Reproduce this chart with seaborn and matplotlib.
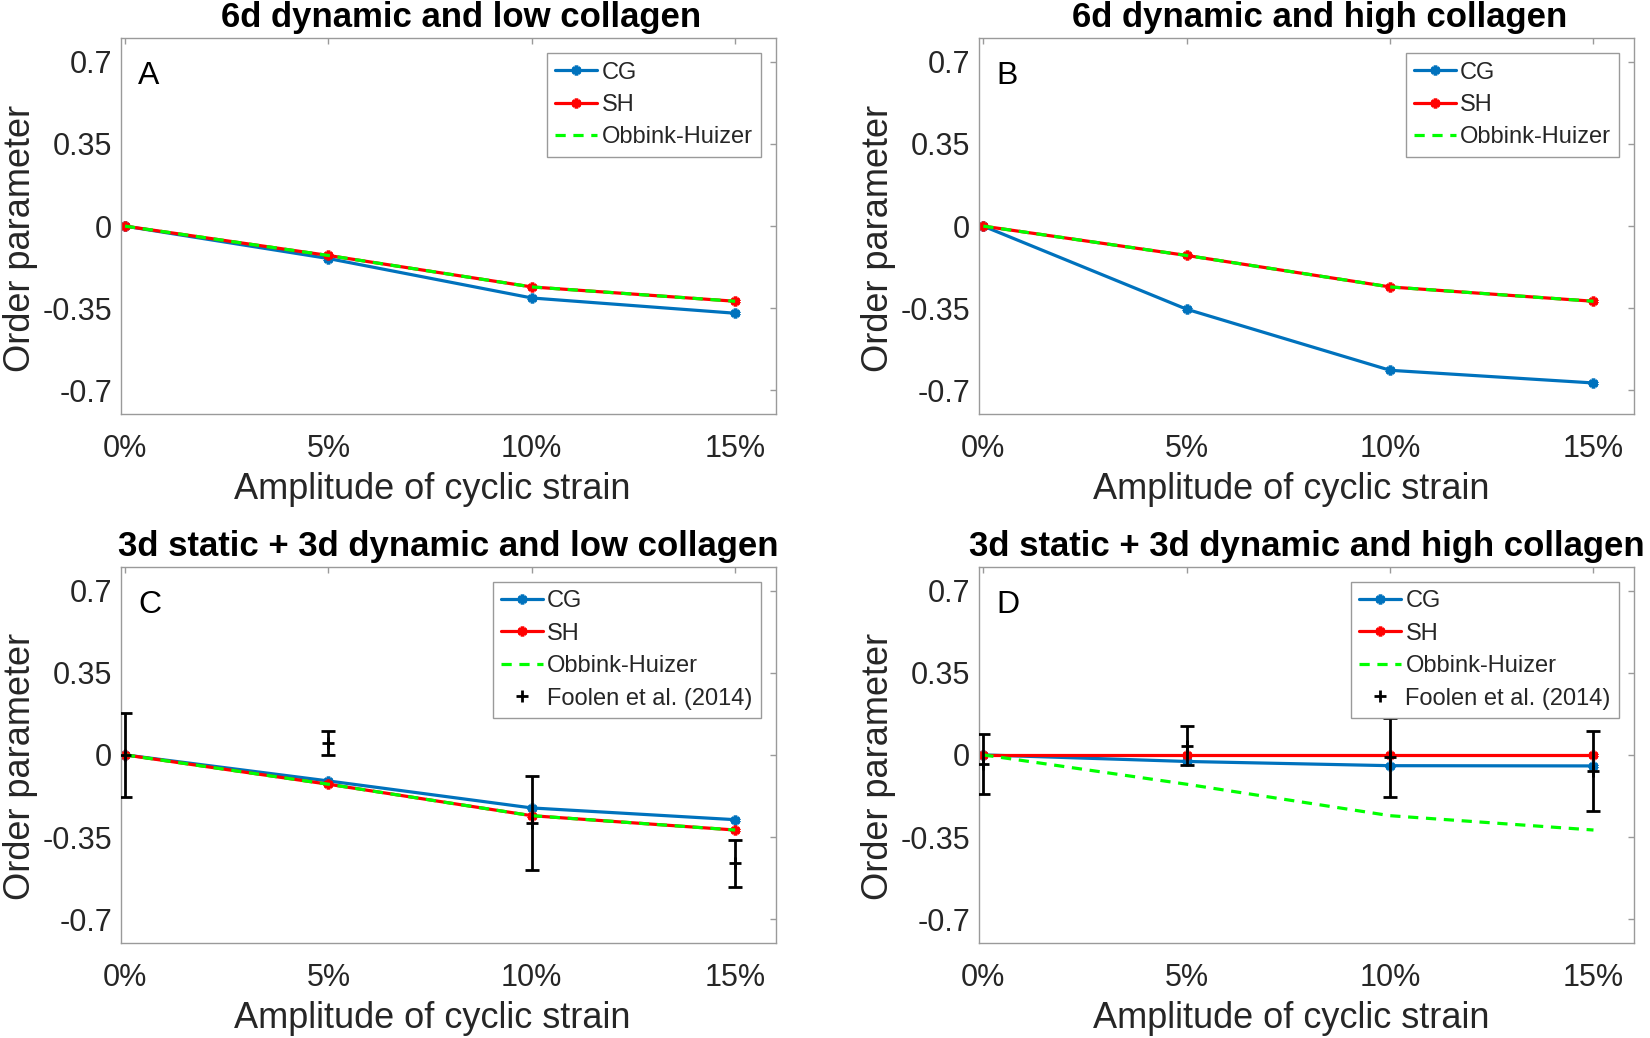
import matplotlib
matplotlib.use("Agg")
import matplotlib.pyplot as plt
from matplotlib.lines import Line2D
from matplotlib.ticker import FuncFormatter
import seaborn as sns

# ── data ───────────────────────────────────────────────────────────────────────
strain = [0, 5, 10, 15]          # amplitude of cyclic strain (%)

obbink_huizer = [0, -0.125, -0.259, -0.320]

cg_a = [0, -0.138, -0.306, -0.371]
sh_a = [0, -0.125, -0.259, -0.320]

cg_b = [0, -0.354, -0.614, -0.668]
sh_b = [0, -0.125, -0.259, -0.320]

cg_c = [0, -0.111, -0.226, -0.276]
sh_c = [0, -0.125, -0.259, -0.320]

cg_d = [0, -0.028, -0.046, -0.047]
sh_d = [0, 0, 0, 0]

foolen_c_mean = [0, 0.050, -0.290, -0.462]
foolen_c_err = [0.180, 0.050, 0.200, 0.100]
foolen_d_mean = [-0.037, 0.039, -0.011, -0.070]
foolen_d_err = [0.128, 0.082, 0.170, 0.170]

titles = [
    "6d dynamic and low collagen",
    "6d dynamic and high collagen",
    "3d static + 3d dynamic and low collagen",
    "3d static + 3d dynamic and high collagen",
]
letters = ["A", "B", "C", "D"]
yticks = [-0.7, -0.35, 0, 0.35, 0.7]

CG_COLOR = "#0072BD"
SH_COLOR = "#FF0000"
OH_COLOR = "#00FF00"
SPINE = "#9a9a9a"
TEXT = "#262626"
OH_DASHES = (3.2, 2.4)

sns.set_style("white")
plt.rcParams["font.family"] = ["Liberation Sans", "DejaVu Sans"]

fig = plt.figure(figsize=(16.5, 10.38), dpi=100)

# axes rectangles in figure fractions
lefts = [0.0733, 0.5935]
bottoms = [0.6012, 0.0918]
width, height = 0.3969, 0.3619

panels = [
    (cg_a, sh_a, None, None),
    (cg_b, sh_b, None, None),
    (cg_c, sh_c, foolen_c_mean, foolen_c_err),
    (cg_d, sh_d, foolen_d_mean, foolen_d_err),
]

marker = (6, 2, 0)

for i, (cg, sh, f_mean, f_err) in enumerate(panels):
    ax = fig.add_axes([lefts[i % 2], bottoms[i // 2], width, height])

    sns.lineplot(x=strain, y=cg, ax=ax, color=CG_COLOR, lw=2.3, marker=marker,
                 markersize=7, markeredgewidth=2.6, markeredgecolor=CG_COLOR,
                 label="CG")
    sns.lineplot(x=strain, y=sh, ax=ax, color=SH_COLOR, lw=2.3, marker=marker,
                 markersize=7, markeredgewidth=2.6, markeredgecolor=SH_COLOR,
                 label="SH")
    sns.lineplot(x=strain, y=obbink_huizer, ax=ax, color=OH_COLOR, lw=2.3,
                 dashes=False, label="Obbink-Huizer")
    ax.lines[-1].set_dashes(OH_DASHES)

    handles, labels = ax.get_legend_handles_labels()
    if f_mean is not None:
        ax.errorbar(strain, f_mean, yerr=f_err, fmt="+", color="black",
                    ecolor="black", elinewidth=2, capsize=5, capthick=2,
                    markersize=8, markeredgewidth=2, zorder=5)
        handles.append(Line2D([0], [0], ls="none", marker="+", color="black",
                              markersize=8, markeredgewidth=2))
        labels.append("Foolen et al. (2014)")

    ax.set_xlim(-0.1, 16)
    ax.set_ylim(-0.8, 0.8)
    ax.set_xticks(strain)
    ax.set_xticklabels([f"{s}%" for s in strain])
    ax.set_yticks(yticks)
    ax.yaxis.set_major_formatter(FuncFormatter(lambda v, p: f"{v:g}"))

    ax.tick_params(axis="both", direction="in", length=4, width=1,
                   color=SPINE, labelsize=22, labelcolor=TEXT,
                   top=True, right=True)
    ax.tick_params(axis="x", pad=14.5)
    ax.tick_params(axis="y", pad=6.5)
    for sp in ax.spines.values():
        sp.set_color(SPINE)
        sp.set_linewidth(1)

    ax.set_xlabel("Amplitude of cyclic strain", fontsize=26, color=TEXT,
                  labelpad=6)
    ax.set_ylabel("Order parameter", fontsize=26, color=TEXT, labelpad=3)
    ax.xaxis.label.set_x(0.476)
    ax.yaxis.label.set_y(0.468)

    title_x = 0.52 if i < 2 else 0.5
    ax.set_title(titles[i], fontsize=25, fontweight="bold", color="black",
                 pad=8, x=title_x)

    ax.text(0.026, 0.878, letters[i], transform=ax.transAxes, fontsize=23,
            color="black", va="baseline", ha="left")

    leg = ax.legend(handles, labels, loc="upper right",
                    bbox_to_anchor=(0.977, 0.960), fontsize=17,
                    frameon=True, fancybox=False, framealpha=1,
                    edgecolor=SPINE, handlelength=1.77, handletextpad=0.18,
                    labelspacing=0.44, borderpad=0.35, borderaxespad=0)
    leg.get_frame().set_linewidth(1)
    for line in leg.get_lines():
        if line.get_linestyle() not in ("-", "None", "none", ""):
            line.set_dashes(OH_DASHES)

fig.savefig("out.png", dpi=100)
plt.close(fig)
